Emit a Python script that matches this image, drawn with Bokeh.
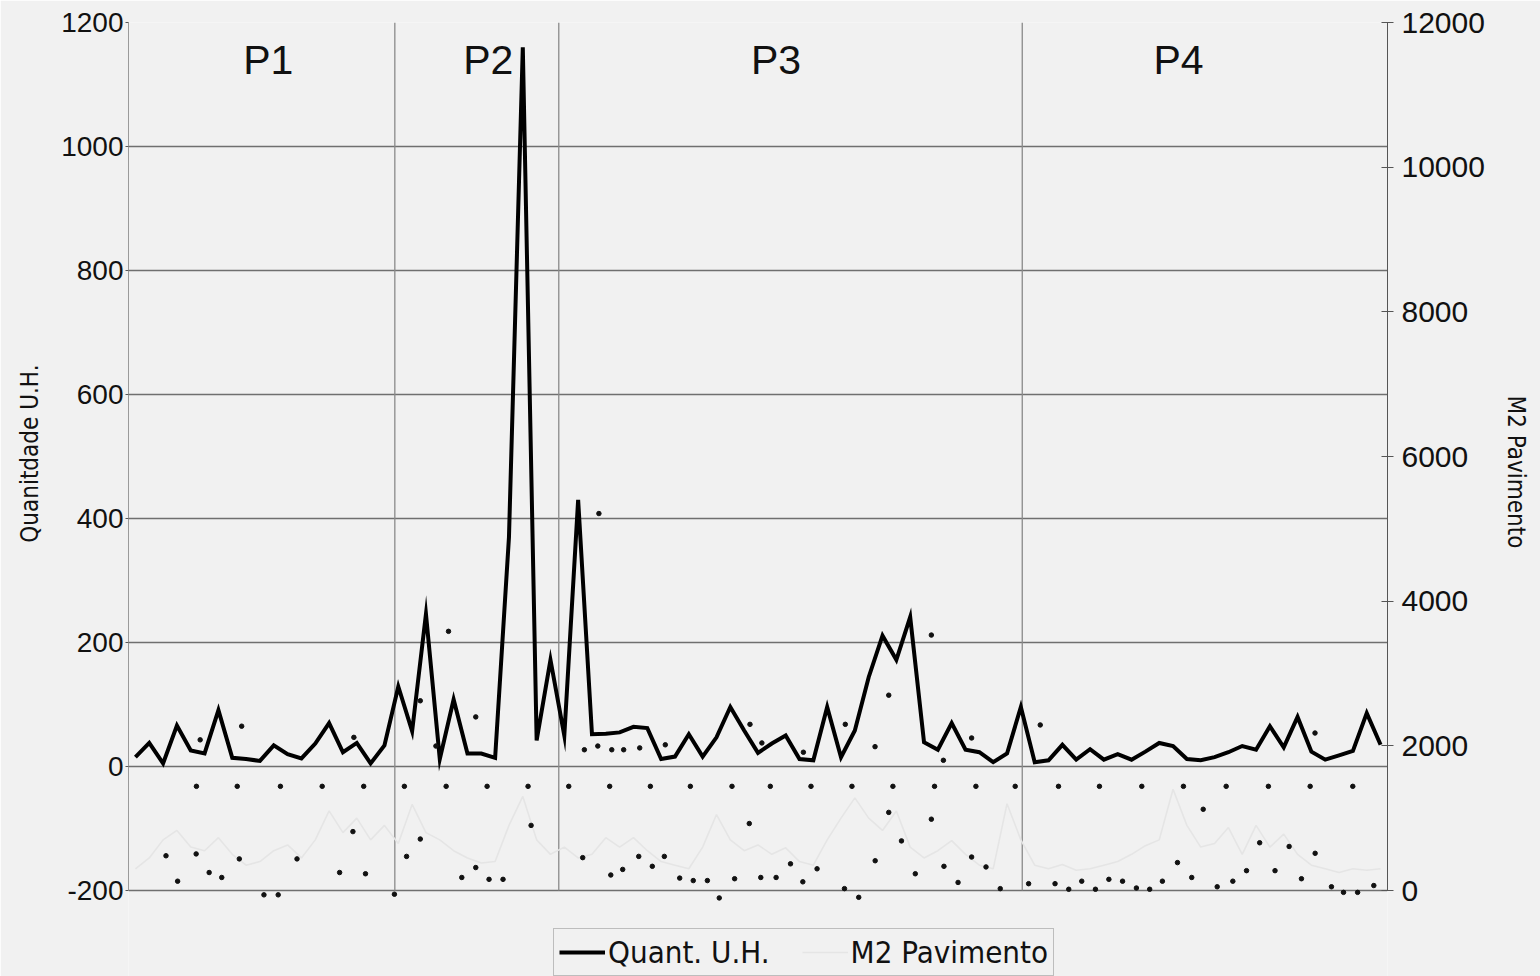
from bokeh.plotting import figure
from bokeh.models import Range1d, LinearAxis, FixedTicker, Legend, LegendItem, Title
from bokeh.core.properties import value
from bokeh.embed import file_html
from bokeh.resources import INLINE

# ---------------- data ----------------
quant_uh = [15, 38, 5, 66, 26, 21, 91, 14, 12, 9,
            34, 20, 13, 37, 70, 23, 38, 5, 34, 129,
            57, 246, 12, 108, 21, 21, 14, 370, 1160, 42,
            172, 50, 430, 52, 53, 55, 64, 62, 12, 16,
            52, 16, 47, 96, 58, 22, 37, 50, 12, 10,
            96, 15, 58, 144, 211, 172, 241, 39, 27, 70,
            27, 23, 7, 21, 96, 7, 10, 35, 11, 28,
            11, 20, 11, 24, 38, 33, 12, 10, 15, 23,
            33, 27, 65, 31, 80, 24, 11, 18, 25, 86, 35]

m2_pav = [300, 450, 700, 830, 600, 550, 730, 500, 350, 400,
          550, 630, 450, 700, 1100, 800, 1000, 700, 900, 650,
          1190, 800, 700, 550, 450, 380, 400, 900, 1300, 700,
          500, 600, 450, 500, 730, 600, 730, 550, 400, 350,
          300, 600, 1050, 700, 550, 630, 500, 590, 400, 350,
          700, 1000, 1280, 1000, 830, 1100, 600, 450, 550, 690,
          500, 350, 300, 1200, 700, 350, 300, 360, 280, 300,
          350, 400, 500, 620, 700, 1400, 900, 600, 650, 870,
          500, 900, 600, 780, 500, 350, 300, 250, 300, 280, 300]

period_labels = ["P1", "P2", "P3", "P4"]
period_x = [9.6, 25.5, 46.3, 75.4]
period_y = [1139, 1139, 1139, 1139]
period_bounds = [18.75, 30.6, 64.1]

left_min, left_max = -200, 1200
right_min, right_max = 0, 12000
left_ticks = [-200, 0, 200, 400, 600, 800, 1000, 1200]
grid_ticks = [-200, 0, 200, 400, 600, 800, 1000]
right_ticks = [0, 2000, 4000, 6000, 8000, 10000, 12000]

# small dots visible on the scanned chart (index, left-axis value)
dot_i = [2.21, 3.05, 4.39, 5.33, 6.24, 7.51, 9.29, 10.32, 11.68, 14.76,
         15.72, 16.63, 18.72, 19.60, 20.59, 23.59, 24.60, 25.56, 26.57, 28.60,
         32.33, 34.36, 35.22, 36.38, 37.36, 38.23, 39.34, 40.32, 41.34, 42.20,
         43.31, 44.37, 45.20, 46.31, 47.35, 48.24, 49.27, 51.25, 52.28, 53.47,
         54.45, 55.37, 56.37, 57.53, 58.44, 59.46, 60.44, 61.48, 62.51, 64.56,
         66.47, 67.46, 68.40, 69.39, 70.36, 71.35, 72.35, 73.31, 74.23, 75.32,
         77.18, 76.35, 78.19, 79.32, 80.31, 81.26, 82.37, 83.39, 84.28, 85.27,
         86.45, 87.32, 88.34, 89.51,
         4.68, 7.68, 15.79, 20.59, 21.72, 22.63, 24.60, 32.45, 33.42, 33.50,
         34.43, 35.29, 36.45, 38.30, 44.42, 45.28, 48.28, 51.31, 53.46, 54.45,
         57.53, 58.40, 60.44, 65.40, 85.26]
dot_v = [-144, -185, -141, -171, -179, -149, -207, -207, -149, -171,
         -105, -173, -206, -145, -117, -179, -163, -182, -182, -95,
         -147, -175, -166, -145, -161, -145, -180, -184, -184, -212,
         -181, -92, -179, -179, -157, -186, -165, -197, -211, -152,
         -74, -120, -173, -85, -161, -187, -146, -162, -197, -189,
         -189, -198, -185, -198, -182, -185, -196, -198, -185, -155,
         -69, -179, -194, -185, -168, -123, -168, -129, -181, -140,
         -194, -203, -203, -192,
         43, 65, 47, 106, 33, 218, 80, 27, 33, 408,
         27, 27, 30, 35, 68, 38, 23, 68, 32, 115,
         212, 10, 46, 67, 54]

row_i = [4.41, 7.36, 10.48, 13.50, 16.50, 19.44, 22.46, 25.42, 28.38, 31.32,
         34.28, 37.22, 40.11, 43.12, 45.89, 48.83, 51.79, 54.75, 57.76, 60.75,
         63.59, 66.72, 69.68, 72.74, 75.75, 78.84, 81.89, 84.91, 87.99]
row_v = [-32] * len(row_i)

idx = list(range(len(quant_uh)))

BG = "#f1f1f1"
TICK_FONT = "Liberation Sans"
NARROW = "DejaVu Sans Condensed"

# the plotting frame is extended below the axes' range so that the legend
# (which sits under the chart) is drawn inside the frame
PLOT_H = 868          # pixels used by the -200..1200 range
FRAME_H = 954         # plot + room for the legend underneath
extra = (FRAME_H - PLOT_H) / PLOT_H
l_lo = left_min - (left_max - left_min) * extra
r_lo = right_min - (right_max - right_min) * extra

p = figure(frame_width=1259, frame_height=FRAME_H,
           min_border_left=128, min_border_right=153,
           min_border_top=22, min_border_bottom=0,
           x_range=Range1d(-0.5, len(quant_uh) - 0.5),
           y_range=Range1d(l_lo, left_max),
           x_axis_location=None,
           output_backend="svg", toolbar_location=None,
           background_fill_color=BG, border_fill_color=BG,
           outline_line_color=None)

p.extra_y_ranges = {"m2": Range1d(r_lo, right_max)}

# left axis
ya = p.yaxis[0]
ya.bounds = (left_min, left_max)
ya.ticker = FixedTicker(ticks=left_ticks)
ya.major_label_overrides = {-200: "-200"}
ya.major_label_text_font = TICK_FONT
ya.major_label_text_font_size = "28px"
ya.major_label_text_color = "#111111"
ya.major_label_standoff = 2
ya.major_tick_out = 3
ya.major_tick_in = 0
ya.minor_tick_line_color = None
ya.axis_line_color = "#9a9a9a"
ya.major_tick_line_color = "#555555"

# right axis
ra = LinearAxis(y_range_name="m2", ticker=FixedTicker(ticks=right_ticks),
                bounds=(right_min, right_max))
ra.major_label_text_font = TICK_FONT
ra.major_label_text_font_size = "30px"
ra.major_label_text_color = "#111111"
ra.major_label_standoff = 8
ra.major_tick_out = 6
ra.major_tick_in = 6
ra.minor_tick_line_color = None
ra.axis_line_color = "#555555"
ra.major_tick_line_color = "#555555"
p.add_layout(ra, "right")

# axis titles (placed as side titles so they can sit level with the plotted range)
p.add_layout(Title(text="Quanitdade U.H.", align="right", offset=342,
                   vertical_align="middle", standoff=27,
                   text_font=NARROW, text_font_size="24px",
                   text_font_style="normal", text_color="#111111"), "left")
p.add_layout(Title(text="M2 Pavimento", align="left", offset=373,
                   vertical_align="middle", standoff=26,
                   text_font=NARROW, text_font_size="24px",
                   text_font_style="normal", text_color="#111111"), "right")

# grid
p.ygrid.ticker = FixedTicker(ticks=grid_ticks)
p.ygrid.grid_line_color = "#6f6f6f"
p.ygrid.grid_line_width = 1.3
p.xgrid.grid_line_color = None

# period dividers
p.segment(x0=period_bounds, y0=[left_min] * len(period_bounds),
          x1=period_bounds, y1=[left_max] * len(period_bounds),
          line_color="#8a8a8a", line_width=1.3)

# series
m2_line = p.line(idx, m2_pav, y_range_name="m2", line_color="#e5e5e5", line_width=1.6)
q_line = p.line(idx, quant_uh, line_color="#000000", line_width=4, line_join="miter")

p.scatter(row_i, row_v, size=4.5, color="#111111")
p.scatter(dot_i, dot_v, size=4.5, color="#111111")

p.text(x=period_x, y=period_y, text=period_labels,
       text_font=value(TICK_FONT), text_font_size="41px",
       text_align="center", text_baseline="middle", text_color="#111111")

legend = Legend(items=[LegendItem(label="Quant. U.H.", renderers=[q_line]),
                       LegendItem(label="M2 Pavimento", renderers=[m2_line])],
                location=(425, 0), orientation="horizontal",
                label_text_font=NARROW, label_text_font_size="31px",
                label_text_color="#111111",
                glyph_width=46, glyph_height=20, label_standoff=3,
                spacing=32, padding=5, margin=0,
                border_line_color="#8a8a8a", border_line_width=1.3,
                background_fill_alpha=0.0)
p.add_layout(legend, "center")

open("out.html", "w").write(file_html(p, INLINE))
